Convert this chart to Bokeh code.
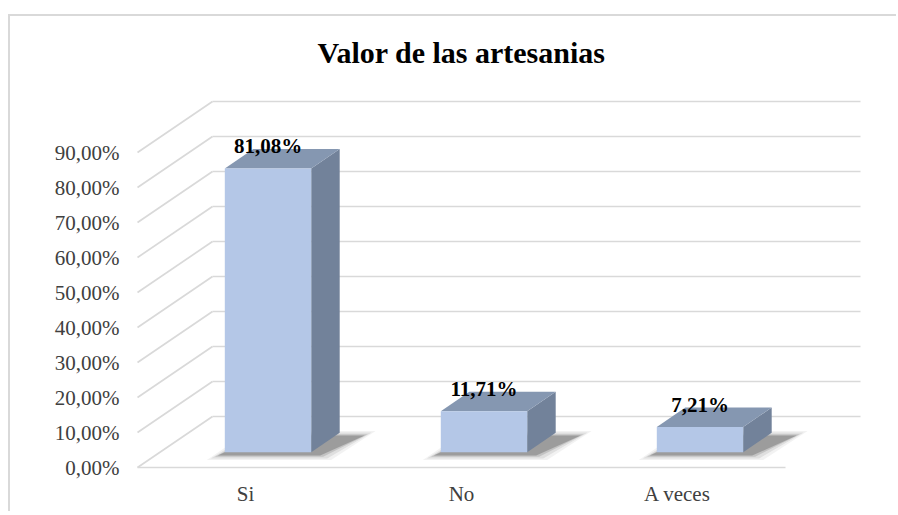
from bokeh.plotting import figure
from bokeh.models import FixedTicker
from bokeh.embed import file_html
from bokeh.resources import INLINE
from bokeh.core.properties import value

# ---------------- data ----------------
title_text = "Valor de las artesanias"
categories = ["Si", "No", "A veces"]
percent = [81.08, 11.71, 7.21]
value_labels = ["81,08%", "11,71%", "7,21%"]
y_ticks = [0, 10, 20, 30, 40, 50, 60, 70, 80, 90]
y_tick_labels = ["0,00%", "10,00%", "20,00%", "30,00%", "40,00%",
                 "50,00%", "60,00%", "70,00%", "80,00%", "90,00%"]

# ---------------- pseudo-3D projection (style) ----------------
PX_X = 216.0          # pixels per category on the front floor
PX_Y = 3.5            # pixels per percent
DX = 75.0 / PX_X      # depth vector, x component (data units)
DY = 51.0 / PX_Y      # depth vector, y component (data units)
F0, F1 = 0.30, 0.68   # bar depth (front / back) as fraction of floor depth
BAR_W = 0.40
N = len(categories)
TITLE_Y = 415.0 / PX_Y   # title baseline height above the floor line

FONT = "Liberation Serif"
GRID = "#d9d9d9"
FRONT = "#b4c7e7"
TOP = "#8597b1"
SIDE = "#72829a"

W, H = 888, 497
p = figure(width=W, height=H, output_backend="svg", toolbar_location=None,
           margin=(14, 0, 0, 8),
           x_range=(-5 / PX_X, 725 / PX_X), y_range=(-9 / PX_Y, 449 / PX_Y),
           min_border_left=122, min_border_right=36, min_border_top=2,
           min_border_bottom=37, background_fill_color="white",
           border_fill_color="white", outline_line_color=None)
p.styles = {"border-left": "2px solid #d9d9d9", "border-top": "2px solid #d9d9d9"}

p.xgrid.visible = False
p.ygrid.visible = False

# ---- title ----
p.text(x=[N / 2], y=[TITLE_Y], text=[title_text], text_font=value(FONT),
       text_font_size="30px", text_font_style="bold", text_color="black",
       text_align="center", text_baseline="alphabetic")

# ---- walls / floor grid ----
back_x0 = [DX for _ in y_ticks]
back_x1 = [N + DX for _ in y_ticks]
back_y = [t + DY for t in y_ticks]
p.segment(x0=back_x0, y0=back_y, x1=back_x1, y1=back_y, line_color=GRID, line_width=1.7)
p.segment(x0=[0 for _ in y_ticks], y0=y_ticks, x1=back_x0, y1=back_y,
          line_color=GRID, line_width=1.7)
p.segment(x0=[0], y0=[0], x1=[N], y1=[0], line_color=GRID, line_width=1.7)

# ---- bars ----
sh_layers = [(12, 0.05), (8, 0.08), (4, 0.12), (1, 0.2)]
for i, v in enumerate(percent):
    xl = i + 0.5 - BAR_W / 2
    xr = i + 0.5 + BAR_W / 2
    fx0, fy0 = F0 * DX, F0 * DY
    fx1, fy1 = F1 * DX, F1 * DY
    # shadow on floor (blurred layers)
    for g, a in sh_layers:
        gx, gy = g / PX_X, g / PX_Y
        sx, sy = 8 / PX_X, -3 / PX_Y
        xs = [xl + fx0 - gx - 14 / PX_X + sx, xr + fx0 + gx + sx,
              xr + fx1 + gx + 16 / PX_X + sx, xl + fx1 - gx + sx]
        ys = [fy0 - gy * 0.4 + sy, fy0 - gy * 0.4 + sy,
              fy1 + gy * 0.4 + sy, fy1 + gy * 0.4 + sy]
        p.patch(xs, ys, fill_color="black", fill_alpha=a, line_color=None)
    # side face
    p.patch([xr + fx0, xr + fx1, xr + fx1, xr + fx0],
            [fy0, fy1, v + fy1, v + fy0], fill_color=SIDE, line_color=None)
    # top face
    p.patch([xl + fx0, xr + fx0, xr + fx1, xl + fx1],
            [v + fy0, v + fy0, v + fy1, v + fy1], fill_color=TOP, line_color=None)
    # front face
    p.patch([xl + fx0, xr + fx0, xr + fx0, xl + fx0],
            [fy0, fy0, v + fy0, v + fy0], fill_color=FRONT, line_color=None)

# ---- value labels ----
LIFT = 3 / PX_Y
lx = [i + 0.5 + F0 * DX for i in range(N)]
ly = [v + F1 * DY + LIFT for v in percent]
p.text(x=lx, y=ly, text=value_labels, text_font=value(FONT), text_font_size="21px",
       text_font_style="bold", text_color="black", text_align="center",
       text_baseline="middle")

# ---- axes ----
p.yaxis.ticker = FixedTicker(ticks=y_ticks)
p.yaxis.major_label_overrides = {t: s for t, s in zip(y_ticks, y_tick_labels)}
p.yaxis.axis_line_color = None
p.yaxis.major_tick_line_color = None
p.yaxis.minor_tick_line_color = None
p.yaxis.major_tick_out = 0
p.yaxis.major_tick_in = 0
p.yaxis.major_label_standoff = 13
p.yaxis.major_label_text_font = FONT
p.yaxis.major_label_text_font_size = "21px"
p.yaxis.major_label_text_color = "#404040"

x_ticks = [i + 0.5 for i in range(N)]
p.xaxis.ticker = FixedTicker(ticks=x_ticks)
p.xaxis.major_label_overrides = {t: c for t, c in zip(x_ticks, categories)}
p.xaxis.axis_line_color = None
p.xaxis.major_tick_line_color = None
p.xaxis.minor_tick_line_color = None
p.xaxis.major_tick_out = 0
p.xaxis.major_tick_in = 0
p.xaxis.major_label_standoff = 5
p.xaxis.major_label_text_font = FONT
p.xaxis.major_label_text_font_size = "21px"
p.xaxis.major_label_text_color = "#404040"

open("out.html", "w").write(file_html(p, INLINE))
